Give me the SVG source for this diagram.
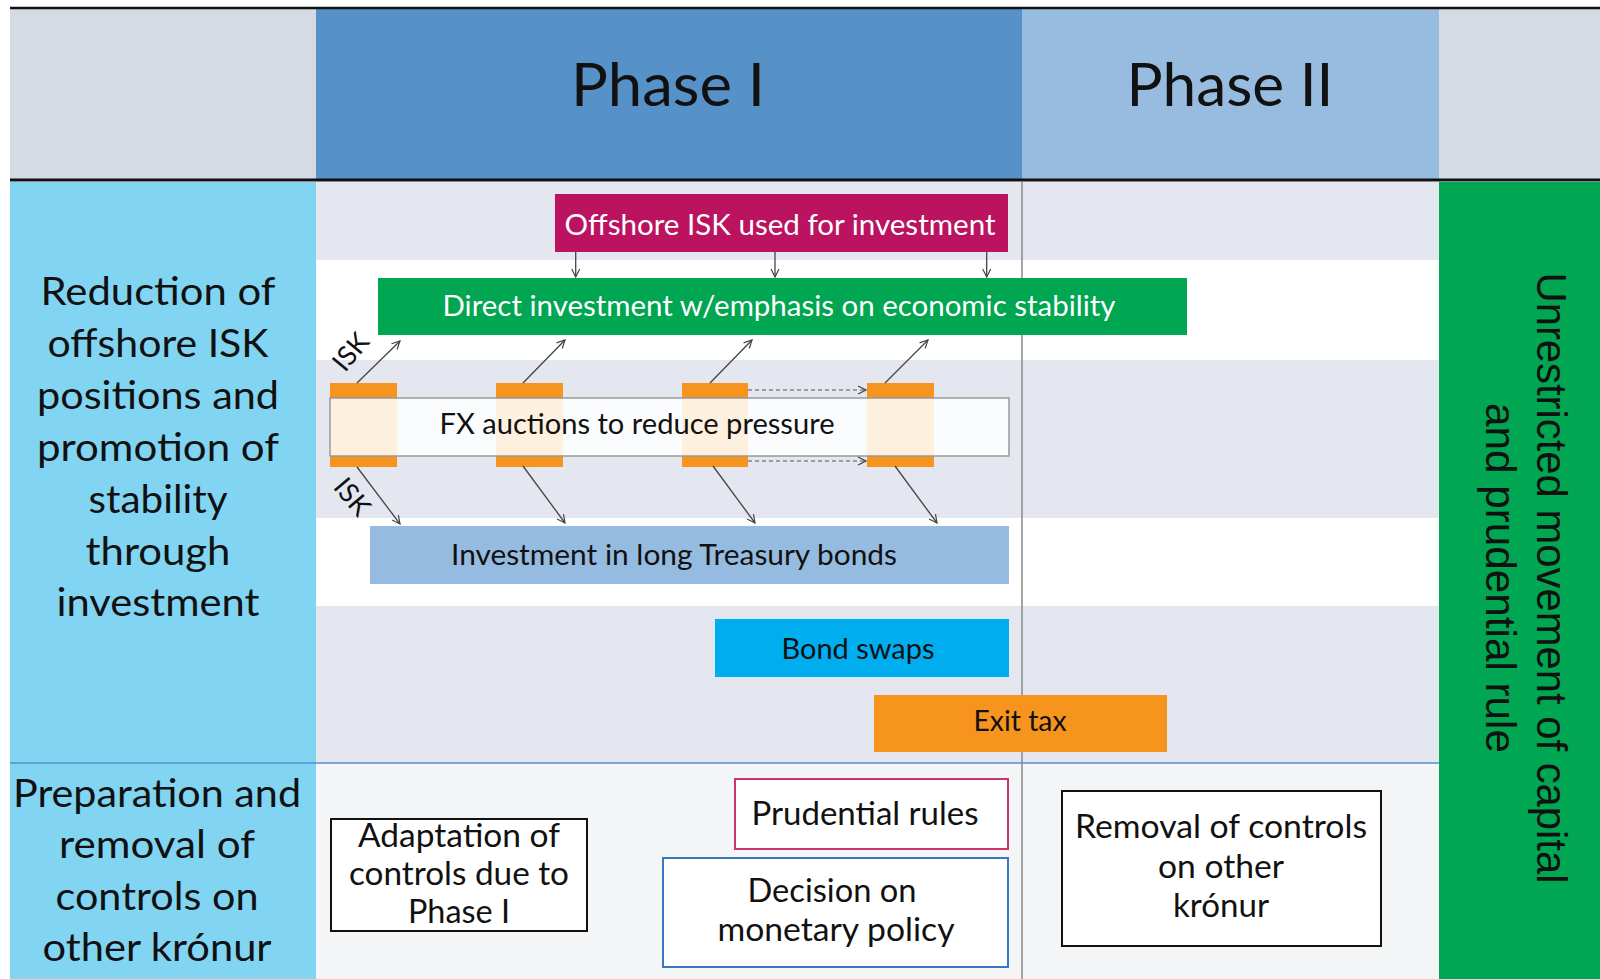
<svg xmlns="http://www.w3.org/2000/svg" width="1600" height="979" viewBox="0 0 1600 979">
<defs>
<style>
.t{font-family:Lato,"Liberation Sans",sans-serif;fill:#111;text-anchor:middle}
.w{fill:#fff}
.lbl{font-size:39px}
.box{font-size:29px}
.bot{font-size:32px}
.hdr{font-size:60px}
.con{stroke:#444;stroke-width:1.3;fill:none}
.dash{stroke:#555;stroke-width:1.2;fill:none;stroke-dasharray:4 3}
.band{fill:#e4e7ef}
.orange{fill:#f7941d}
</style>
<marker id="ah" viewBox="0 0 10 10" refX="9" refY="5" markerWidth="10" markerHeight="10" markerUnits="userSpaceOnUse" orient="auto">
<path d="M1,1 L9,5 L1,9" fill="none" stroke="#444" stroke-width="1.2"/>
</marker>
</defs>
<rect width="1600" height="979" fill="#fff"/>
<!-- header -->
<g id="header">
<rect x="10" y="8" width="306" height="172" fill="#d5dbe4"/>
<rect x="316" y="8" width="706" height="172" fill="#5691c8"/>
<rect x="1022" y="8" width="417" height="172" fill="#97bcdf"/>
<rect x="1439" y="8" width="161" height="172" fill="#d5dbe4"/>
<line x1="10" y1="8" x2="1600" y2="8" stroke="#111" stroke-width="2.5"/>
<line x1="10" y1="180" x2="1600" y2="180" stroke="#111" stroke-width="3"/>
<text class="t hdr" x="668" y="106" textLength="194" lengthAdjust="spacingAndGlyphs">Phase I</text>
<text class="t hdr" x="1230" y="106" textLength="207" lengthAdjust="spacingAndGlyphs">Phase II</text>
</g>
<!-- background bands -->
<g id="bands">
<rect class="band" x="316" y="182" width="1123" height="78"/>
<rect fill="#fff" x="316" y="260" width="1123" height="100"/>
<rect class="band" x="316" y="360" width="1123" height="158"/>
<rect fill="#fff" x="316" y="518" width="1123" height="88"/>
<rect class="band" x="316" y="606" width="1123" height="157"/>
<rect fill="#f4f5f7" x="316" y="763" width="1123" height="216"/>
<line x1="1022" y1="181" x2="1022" y2="979" stroke="#888" stroke-width="1.5"/>
</g>
<!-- left row labels -->
<g id="row1">
<rect x="10" y="182" width="306" height="581" fill="#81d5f3"/>
<text class="t lbl"><tspan x="158" y="305" textLength="235" lengthAdjust="spacingAndGlyphs">Reduction of</tspan><tspan x="158" y="357" textLength="221" lengthAdjust="spacingAndGlyphs">offshore ISK</tspan><tspan x="158" y="409" textLength="242" lengthAdjust="spacingAndGlyphs">positions and</tspan><tspan x="158" y="461" textLength="242" lengthAdjust="spacingAndGlyphs">promotion of</tspan><tspan x="158" y="513" textLength="139" lengthAdjust="spacingAndGlyphs">stability</tspan><tspan x="158" y="565" textLength="145" lengthAdjust="spacingAndGlyphs">through</tspan><tspan x="158" y="616" textLength="203" lengthAdjust="spacingAndGlyphs">investment</tspan></text>
</g>
<g id="row2">
<rect x="10" y="763" width="306" height="216" fill="#81d5f3"/>
<text class="t lbl"><tspan x="157" y="807" textLength="288" lengthAdjust="spacingAndGlyphs">Preparation and</tspan><tspan x="157" y="858" textLength="196" lengthAdjust="spacingAndGlyphs">removal of</tspan><tspan x="157" y="910" textLength="203" lengthAdjust="spacingAndGlyphs">controls on</tspan><tspan x="157" y="961" textLength="229" lengthAdjust="spacingAndGlyphs">other krónur</tspan></text>
</g>
<line x1="10" y1="763" x2="1439" y2="763" stroke="#5b8bd0" stroke-width="1.5"/>
<!-- right green column -->
<g id="unrestricted">
<rect x="1439" y="182" width="161" height="797" fill="#00a651"/>
<g transform="translate(1537,578) rotate(90)">
<text x="0" y="0" font-family="'Liberation Sans',sans-serif" font-size="43" fill="#111" text-anchor="middle" textLength="611" lengthAdjust="spacingAndGlyphs">Unrestricted movement of capital</text>
<text x="0" y="51" font-family="'Liberation Sans',sans-serif" font-size="43" fill="#111" text-anchor="middle" textLength="350" lengthAdjust="spacingAndGlyphs">and prudential rule</text>
</g>
</g>
<!-- nodes -->
<g id="offshore">
<rect x="555" y="194" width="453" height="58" fill="#bc1360"/>
<text class="t w box" x="780" y="235" textLength="431" lengthAdjust="spacingAndGlyphs">Offshore ISK used for investment</text>
</g>
<g id="direct">
<rect x="378" y="278" width="809" height="57" fill="#00a651"/>
<text class="t w box" x="779" y="316" textLength="673" lengthAdjust="spacingAndGlyphs">Direct investment w/emphasis on economic stability</text>
</g>
<g id="fx">
<rect class="orange" x="330" y="383" width="67" height="84"/>
<rect class="orange" x="496" y="383" width="67" height="84"/>
<rect class="orange" x="682" y="383" width="66" height="84"/>
<rect class="orange" x="867" y="383" width="67" height="84"/>
<rect x="330" y="398" width="679" height="58" fill="#fff" fill-opacity="0.86" stroke="#999" stroke-width="1.5"/>
<text class="t box" x="637" y="434" textLength="395" lengthAdjust="spacingAndGlyphs">FX auctions to reduce pressure</text>
</g>
<g id="treasury">
<rect x="370" y="526" width="639" height="58" fill="#95bbe0"/>
<text class="t box" x="674" y="565" textLength="446" lengthAdjust="spacingAndGlyphs">Investment in long Treasury bonds</text>
</g>
<g id="bondswaps">
<rect x="715" y="619" width="294" height="58" fill="#00adee"/>
<text class="t box" x="858" y="659" textLength="153" lengthAdjust="spacingAndGlyphs">Bond swaps</text>
</g>
<g id="exittax">
<rect x="874" y="695" width="293" height="57" fill="#f7941d"/>
<text class="t box" x="1020" y="731" textLength="93" lengthAdjust="spacingAndGlyphs">Exit tax</text>
</g>
<g id="adaptation">
<rect x="331" y="819" width="256" height="112" fill="#fff" stroke="#111" stroke-width="2"/>
<text class="t bot"><tspan x="459" y="847" textLength="202" lengthAdjust="spacingAndGlyphs">Adaptation of</tspan><tspan x="459" y="885" textLength="220" lengthAdjust="spacingAndGlyphs">controls due to</tspan><tspan x="459" y="923" textLength="102" lengthAdjust="spacingAndGlyphs">Phase I</tspan></text>
</g>
<g id="prudential">
<rect x="735" y="779" width="273" height="70" fill="#fff" stroke="#c9336e" stroke-width="2"/>
<text class="t bot" x="865" y="825" textLength="227" lengthAdjust="spacingAndGlyphs">Prudential rules</text>
</g>
<g id="decision">
<rect x="663" y="858" width="345" height="109" fill="#fff" stroke="#3a78c2" stroke-width="2"/>
<text class="t bot"><tspan x="832" y="902" textLength="169" lengthAdjust="spacingAndGlyphs">Decision on</tspan><tspan x="836" y="941" textLength="237" lengthAdjust="spacingAndGlyphs">monetary policy</tspan></text>
</g>
<g id="removal">
<rect x="1062" y="791" width="319" height="155" fill="#fff" stroke="#111" stroke-width="2"/>
<text class="t bot"><tspan x="1221" y="838" textLength="292" lengthAdjust="spacingAndGlyphs">Removal of controls</tspan><tspan x="1221" y="878" textLength="126" lengthAdjust="spacingAndGlyphs">on other</tspan><tspan x="1221" y="917" textLength="96" lengthAdjust="spacingAndGlyphs">krónur</tspan></text>
</g>
<!-- connectors -->
<g id="connectors">
<line class="con" x1="575.7" y1="252" x2="575.7" y2="277" marker-end="url(#ah)"/>
<line class="con" x1="775" y1="252" x2="775" y2="277" marker-end="url(#ah)"/>
<line class="con" x1="986.7" y1="252" x2="986.7" y2="277" marker-end="url(#ah)"/>
<line class="con" x1="357" y1="383" x2="400" y2="341" marker-end="url(#ah)"/>
<line class="con" x1="523" y1="383" x2="565" y2="340" marker-end="url(#ah)"/>
<line class="con" x1="710" y1="383" x2="752" y2="340" marker-end="url(#ah)"/>
<line class="con" x1="885" y1="383" x2="928" y2="340" marker-end="url(#ah)"/>
<line class="con" x1="357" y1="467" x2="400" y2="524" marker-end="url(#ah)"/>
<line class="con" x1="523" y1="466" x2="565" y2="523" marker-end="url(#ah)"/>
<line class="con" x1="713" y1="466" x2="755" y2="523" marker-end="url(#ah)"/>
<line class="con" x1="895" y1="466" x2="937" y2="523" marker-end="url(#ah)"/>
<line class="dash" x1="748" y1="390" x2="866" y2="390" marker-end="url(#ah)"/>
<line class="dash" x1="748" y1="461" x2="866" y2="461" marker-end="url(#ah)"/>
<text class="t" font-size="27" transform="translate(351,352) rotate(-50)" y="9">ISK</text>
<text class="t" font-size="27" transform="translate(352,497) rotate(50)" y="9">ISK</text>
</g>
</svg>
